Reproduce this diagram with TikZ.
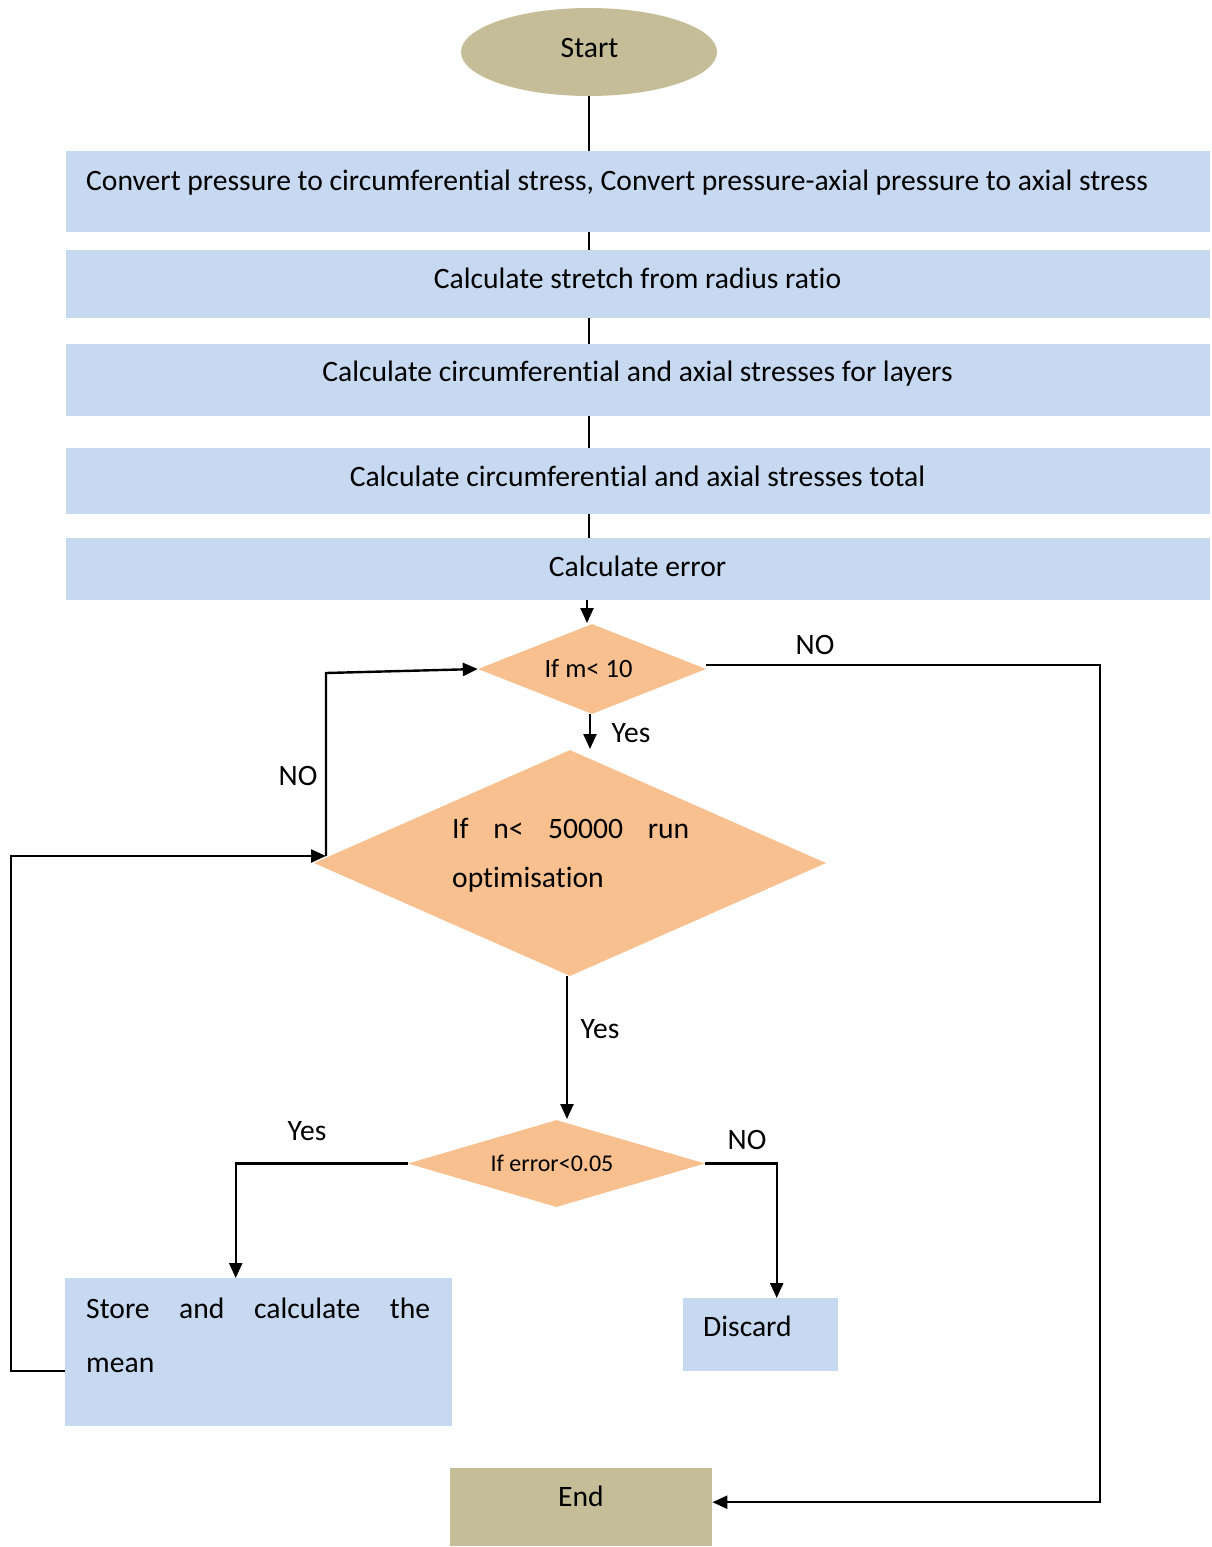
\documentclass[tikz,border=0pt]{standalone}
\usepackage{fontspec}
\setmainfont[Ligatures=NoCommon]{Carlito}
\usetikzlibrary{shapes.geometric,arrows.meta}
\definecolor{procblue}{HTML}{C6D9F1}
\definecolor{termtan}{HTML}{C4BD97}
\definecolor{decorange}{HTML}{F9C08F}
\begin{document}
\begin{tikzpicture}[x=1pt,y=-1pt,
  proc/.style={fill=procblue, draw=none, anchor=north west, inner sep=0pt},
  term/.style={fill=termtan, draw=none, inner sep=0pt},
  dec/.style={diamond, fill=decorange, draw=none, inner sep=0pt},
  txt/.style={inner sep=0pt, font=\fontsize{29.6pt}{35pt}\selectfont},
  conn/.style={line width=2.4pt, line join=miter},
  arr/.style={conn, -{Triangle[length=15pt,width=13pt]}}]
\useasboundingbox (0,0) rectangle (1211,1547);

% terminals
\node[term, ellipse, minimum width=256pt, minimum height=88pt] (start) at (589,52) {};
\node[txt, anchor=base] (startt) at (589.5,57) {Start};
\node[term, anchor=north west, minimum width=262pt, minimum height=78pt] (end) at (450,1468) {};
\node[txt, anchor=base] (endt) at (581,1506) {End};

% process boxes
\node[proc, minimum width=1144pt, minimum height=81pt] (b1) at (66,151) {};
\node[proc, minimum width=1144pt, minimum height=68pt] (b2) at (66,250) {};
\node[proc, minimum width=1144pt, minimum height=72pt] (b3) at (66,344) {};
\node[proc, minimum width=1144pt, minimum height=66pt] (b4) at (66,448) {};
\node[proc, minimum width=1144pt, minimum height=62pt] (b5) at (66,538) {};
\node[txt, anchor=base west] (b1t) at (86,190) {Convert pressure to circumferential stress, Convert pressure-axial pressure to axial stress};
\node[txt, anchor=base] (b2t) at (637.5,288) {Calculate stretch from radius ratio};
\node[txt, anchor=base] (b3t) at (637.5,381) {Calculate circumferential and axial stresses for layers};
\node[txt, anchor=base] (b4t) at (637.5,486) {Calculate circumferential and axial stresses total};
\node[txt, anchor=base] (b5t) at (637.5,576) {Calculate error};

% decisions
\node[dec, minimum width=228pt, minimum height=90pt] (d1) at (592,669) {};
\node[txt, anchor=base, font=\fontsize{26.5pt}{31pt}\selectfont] (d1t) at (588.5,677) {If m< 10};
\node[dec, minimum width=512pt, minimum height=226pt] (d2) at (570,863) {};
\node[txt, anchor=base west] (d2t1) at (452,838) {\hbox to 237pt{If\hfill n<\hfill 50000\hfill run}};
\node[txt, anchor=base west] (d2t2) at (452,887) {optimisation};
\node[dec, minimum width=297pt, minimum height=87pt] (d3) at (556.5,1163.5) {};
\node[txt, anchor=base, font=\fontsize{24pt}{29pt}\selectfont] (d3t) at (552,1171) {If error<0.05};

% outcome boxes
\node[proc, minimum width=387pt, minimum height=148pt] (store) at (65,1278) {};
\node[txt, anchor=base west] (storet1) at (86,1318) {\hbox to 344pt{Store\hfill and\hfill calculate\hfill the}};
\node[txt, anchor=base west] (storet2) at (86,1372) {mean};
\node[proc, minimum width=155pt, minimum height=73pt] (discard) at (683,1298) {};
\node[txt, anchor=base west] (discardt) at (703,1336) {Discard};

% routing points
\coordinate (rt) at (1100,1100);
\coordinate (noup) at (326,856);
\coordinate (nocorner) at (326,673);
\coordinate (lb) at (11,1100);

% main sequence
\draw[conn] (start.south) -- (start.south |- b1.north);
\draw[conn] (b1.south -| start.south) -- (b2.north -| start.south);
\draw[conn] (b2.south -| start.south) -- (b3.north -| start.south);
\draw[conn] (b3.south -| start.south) -- (b4.north -| start.south);
\draw[conn] (b4.south -| start.south) -- (b5.north -| start.south);
\draw[arr] (b5.south -| 587,0) -- (587,623);
\draw[arr] (d1.south -| 590,0) -- (590,749);
\draw[arr] (d2.south -| 567,0) -- (567,1119);

% branches
\draw[arr] ([yshift=4pt]d1.east) -| (rt) |- ([yshift=5pt]end.east);
\draw[arr] (noup) -- (nocorner) -- (d1.west);
\draw[arr] ([yshift=-19pt]store.west) -| (lb) |- (noup);
\draw[arr] (d3.west) -| ([xshift=-23pt]store.north);
\draw[arr] (d3.east) -| ([xshift=16pt]discard.north);

% branch labels
\node[txt, anchor=base] (l1) at (815,654) {NO};
\node[txt, anchor=base] (l2) at (631,742) {Yes};
\node[txt, anchor=base] (l3) at (298,785) {NO};
\node[txt, anchor=base] (l4) at (600,1038) {Yes};
\node[txt, anchor=base] (l5) at (307,1140) {Yes};
\node[txt, anchor=base] (l6) at (747,1149) {NO};
\end{tikzpicture}
\end{document}
